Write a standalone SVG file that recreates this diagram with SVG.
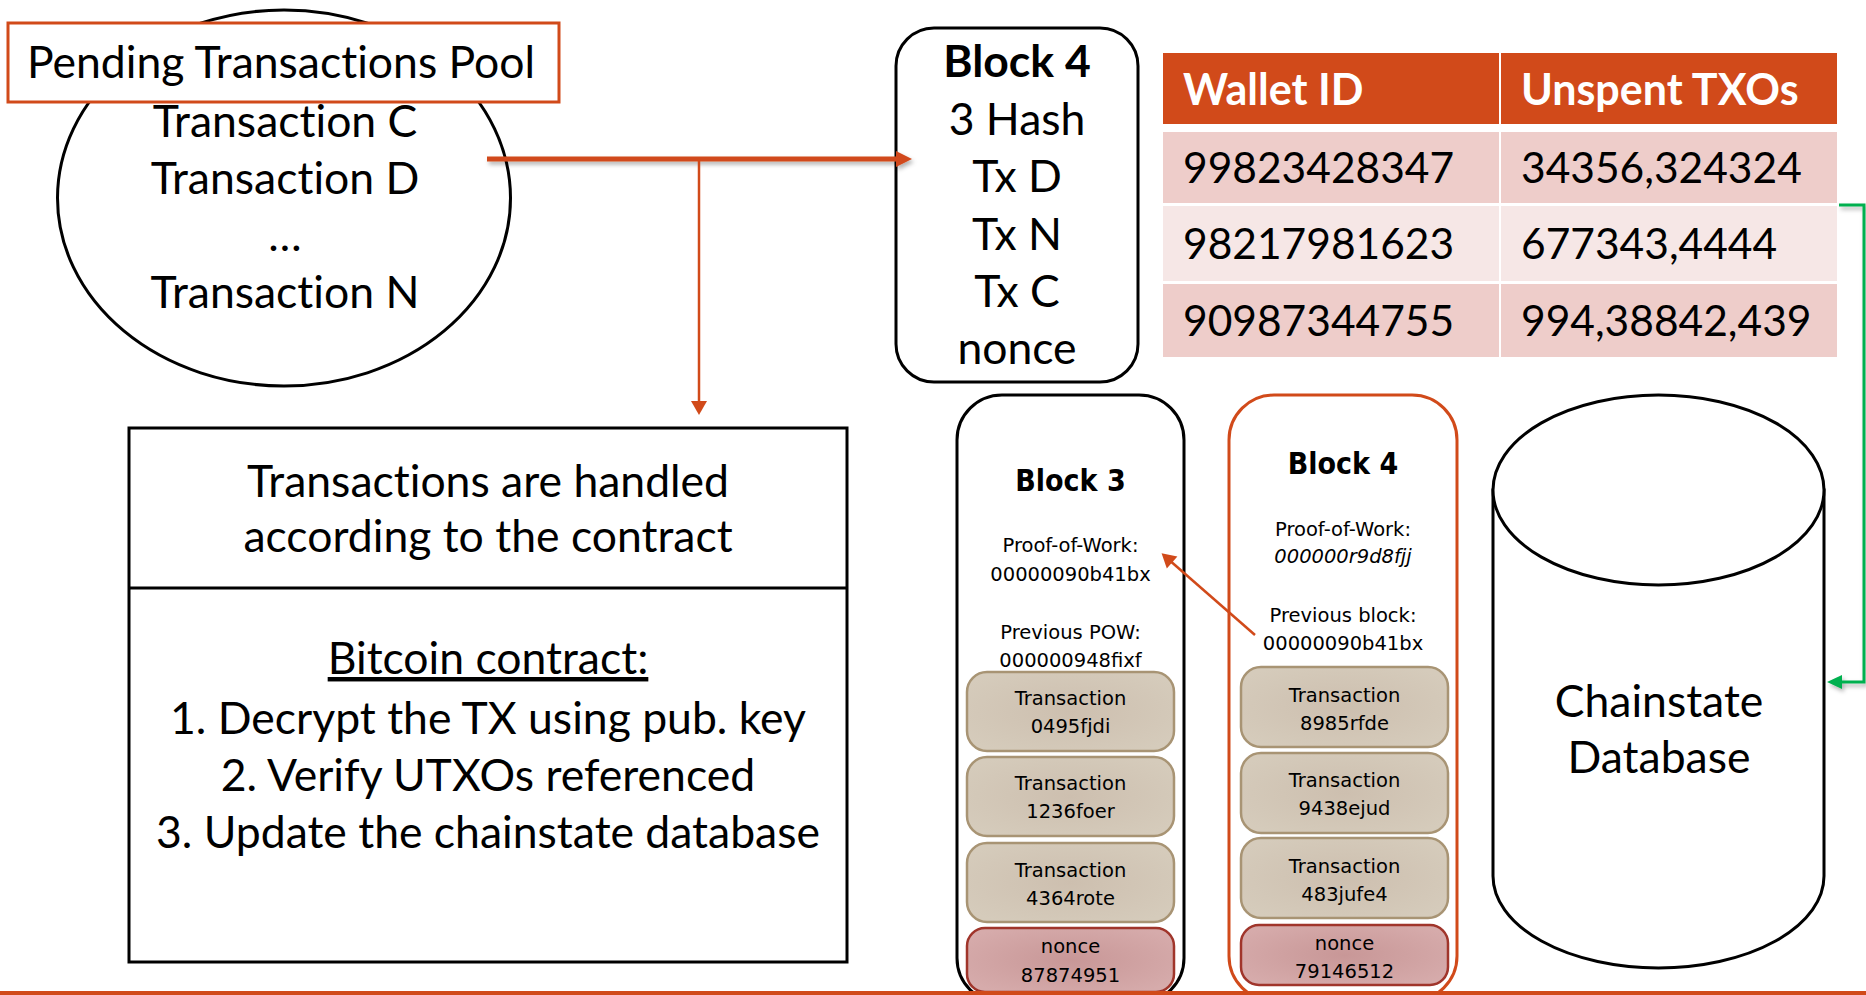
<svg xmlns="http://www.w3.org/2000/svg" width="1866" height="995" viewBox="0 0 1866 995">
<defs>
<style>
.cal{font-family:Lato,'Liberation Sans',sans-serif;font-size:44.5px;fill:#000;text-anchor:middle;font-variant-ligatures:none}
.calb{font-family:Lato,'Liberation Sans',sans-serif;font-size:44.5px;font-weight:bold;fill:#000;text-anchor:middle;font-variant-ligatures:none}
.tab{font-family:Lato,'Liberation Sans',sans-serif;font-size:42.5px;fill:#000;font-variant-ligatures:none}
.tabh{font-family:Lato,'Liberation Sans',sans-serif;font-size:43px;font-weight:bold;fill:#fff;font-variant-ligatures:none}
.sm{font-family:'DejaVu Sans',sans-serif;font-size:19.5px;fill:#000;text-anchor:middle}
.bt{font-family:'DejaVu Sans Condensed','DejaVu Sans',sans-serif;font-stretch:condensed;font-weight:bold;font-size:30px;fill:#000;text-anchor:middle}
.blk{fill:#fff;stroke:#000;stroke-width:3}
.tx{fill:url(#gTx);stroke:#A89474;stroke-width:2.5}
.nc{fill:url(#gNc);stroke:#A0352B;stroke-width:2.5}
.org{stroke:#D14A1A;fill:none}
</style>
<radialGradient id="gTx" cx="0.5" cy="0.5" r="0.6">
<stop offset="0" stop-color="#CDBFAF"/>
<stop offset="1" stop-color="#D5CBBB"/>
</radialGradient>
<radialGradient id="gNc" cx="0.5" cy="0.5" r="0.6">
<stop offset="0" stop-color="#C89797"/>
<stop offset="1" stop-color="#D6ABAB"/>
</radialGradient>
<filter id="sh" filterUnits="userSpaceOnUse" x="0" y="0" width="1866" height="995">
<feDropShadow dx="2" dy="3" stdDeviation="2" flood-color="#000" flood-opacity="0.3"/>
</filter>
<marker id="ahO" markerUnits="userSpaceOnUse" markerWidth="18" markerHeight="18" refX="3" refY="8" orient="auto" overflow="visible">
<path d="M0,0 L16,8 L0,16 Z" fill="#D14A1A"/>
</marker>
<marker id="ahS" markerUnits="userSpaceOnUse" markerWidth="16" markerHeight="16" refX="2" refY="8" orient="auto" overflow="visible">
<path d="M0,0 L14,8 L0,16 Z" fill="#D14A1A"/>
</marker>
<marker id="ahG" markerUnits="userSpaceOnUse" markerWidth="16" markerHeight="14" refX="2" refY="7" orient="auto" overflow="visible">
<path d="M0,0 L15,7 L0,14 Z" fill="#00B050"/>
</marker>
</defs>

<rect width="1866" height="995" fill="#fff"/>

<g id="pool">
<ellipse cx="284" cy="198" rx="226.5" ry="188" fill="#fff" stroke="#000" stroke-width="3"/>
<text class="cal" x="285" y="137">Transaction C</text>
<text class="cal" x="285" y="194">Transaction D</text>
<text class="cal" x="285" y="251">…</text>
<text class="cal" x="285" y="308">Transaction N</text>
</g>

<g id="pool-label">
<rect x="8" y="23" width="551" height="79" fill="#fff" stroke="#D14A1A" stroke-width="3"/>
<text class="cal" x="281" y="78">Pending Transactions Pool</text>
</g>

<g id="contract">
<rect x="129" y="428" width="718" height="534" fill="#fff" stroke="#000" stroke-width="3"/>
<line x1="129" y1="588" x2="847" y2="588" stroke="#000" stroke-width="3"/>
<text class="cal" x="488" y="497">Transactions are handled</text>
<text class="cal" x="488" y="552">according to the contract</text>
<text class="cal" x="488" y="674" text-decoration="underline">Bitcoin contract:</text>
<text class="cal" x="488" y="734">1. Decrypt the TX using pub. key</text>
<text class="cal" x="488" y="791">2. Verify UTXOs referenced</text>
<text class="cal" x="488" y="848">3. Update the chainstate database</text>
</g>

<g id="block4-candidate">
<rect class="blk" x="896" y="28" width="242" height="354" rx="38"/>
<text class="calb" x="1017" y="77">Block 4</text>
<text class="cal" x="1017" y="135">3 Hash</text>
<text class="cal" x="1017" y="192">Tx D</text>
<text class="cal" x="1017" y="250">Tx N</text>
<text class="cal" x="1017" y="307">Tx C</text>
<text class="cal" x="1017" y="364">nonce</text>
</g>

<g id="utxo-table">
<rect x="1163" y="53" width="336" height="71" fill="#D14A1A"/>
<rect x="1501" y="53" width="336" height="71" fill="#D14A1A"/>
<rect x="1163" y="132" width="336" height="71" fill="#EECDCA"/>
<rect x="1501" y="132" width="336" height="71" fill="#EECDCA"/>
<rect x="1163" y="206" width="336" height="75" fill="#F6E7E6"/>
<rect x="1501" y="206" width="336" height="75" fill="#F6E7E6"/>
<rect x="1163" y="284" width="336" height="73" fill="#EECDCA"/>
<rect x="1501" y="284" width="336" height="73" fill="#EECDCA"/>
<text class="tabh" x="1183" y="105">Wallet ID</text>
<text class="tabh" x="1521" y="105">Unspent TXOs</text>
<text class="tab" x="1183" y="183">99823428347</text>
<text class="tab" x="1521" y="183">34356,324324</text>
<text class="tab" x="1183" y="259">98217981623</text>
<text class="tab" x="1521" y="259">677343,4444</text>
<text class="tab" x="1183" y="336">90987344755</text>
<text class="tab" x="1521" y="336">994,38842,439</text>
</g>

<g id="block3">
<rect class="blk" x="957" y="395" width="227" height="608" rx="45"/>
<text class="bt" x="1070.5" y="491">Block 3</text>
<text class="sm" x="1070.5" y="552">Proof-of-Work:</text>
<text class="sm" x="1070.5" y="581">00000090b41bx</text>
<text class="sm" x="1070.5" y="639">Previous POW:</text>
<text class="sm" x="1070.5" y="667">000000948fixf</text>
<rect class="tx" x="967" y="672" width="207" height="79" rx="20"/>
<text class="sm" x="1070.5" y="705">Transaction</text>
<text class="sm" x="1070.5" y="733">0495fjdi</text>
<rect class="tx" x="967" y="757" width="207" height="79" rx="20"/>
<text class="sm" x="1070.5" y="790">Transaction</text>
<text class="sm" x="1070.5" y="818">1236foer</text>
<rect class="tx" x="967" y="843" width="207" height="79" rx="20"/>
<text class="sm" x="1070.5" y="877">Transaction</text>
<text class="sm" x="1070.5" y="905">4364rote</text>
<rect class="nc" x="967" y="928" width="207" height="64" rx="18"/>
<text class="sm" x="1070.5" y="953">nonce</text>
<text class="sm" x="1070.5" y="982">87874951</text>
</g>

<g id="block4">
<rect x="1229" y="395" width="228" height="606" rx="45" fill="#fff" stroke="#D14A1A" stroke-width="3"/>
<text class="bt" x="1343" y="474">Block 4</text>
<text class="sm" x="1343" y="536">Proof-of-Work:</text>
<text class="sm" x="1343" y="563" font-style="italic">000000r9d8fjj</text>
<text class="sm" x="1343" y="622">Previous block:</text>
<text class="sm" x="1343" y="650">00000090b41bx</text>
<rect class="tx" x="1241" y="667" width="207" height="80" rx="20"/>
<text class="sm" x="1344.5" y="702">Transaction</text>
<text class="sm" x="1344.5" y="730">8985rfde</text>
<rect class="tx" x="1241" y="753" width="207" height="80" rx="20"/>
<text class="sm" x="1344.5" y="787">Transaction</text>
<text class="sm" x="1344.5" y="815">9438ejud</text>
<rect class="tx" x="1241" y="838" width="207" height="80" rx="20"/>
<text class="sm" x="1344.5" y="873">Transaction</text>
<text class="sm" x="1344.5" y="901">483jufe4</text>
<rect class="nc" x="1241" y="925" width="207" height="60" rx="18"/>
<text class="sm" x="1344.5" y="950">nonce</text>
<text class="sm" x="1344.5" y="978">79146512</text>
</g>

<g id="chainstate-db">
<path d="M1493,490 L1493,876 A165.5,92 0 0 0 1824,876 L1824,490 Z" fill="#fff" stroke="#000" stroke-width="3"/>
<ellipse cx="1658.5" cy="490" rx="165.5" ry="95" fill="#fff" stroke="#000" stroke-width="3"/>
<text class="cal" x="1659" y="717">Chainstate</text>
<text class="cal" x="1659" y="773">Database</text>
</g>

<g id="connectors">
<path class="org" d="M487,159 L899,159" stroke-width="5" marker-end="url(#ahO)" filter="url(#sh)"/>
<path class="org" d="M699,159 L699,403" stroke-width="2.5" marker-end="url(#ahS)"/>
<path class="org" d="M1255,635 L1170.6,561.2" stroke-width="2.5" marker-end="url(#ahS)"/>
<path d="M1839,205 L1864,205 L1864,682 L1840,682" fill="none" stroke="#00B050" stroke-width="3" marker-end="url(#ahG)" filter="url(#sh)"/>
</g>

<rect id="slide-rule" x="0" y="991" width="1866" height="4" fill="#D14A1A"/>
</svg>
